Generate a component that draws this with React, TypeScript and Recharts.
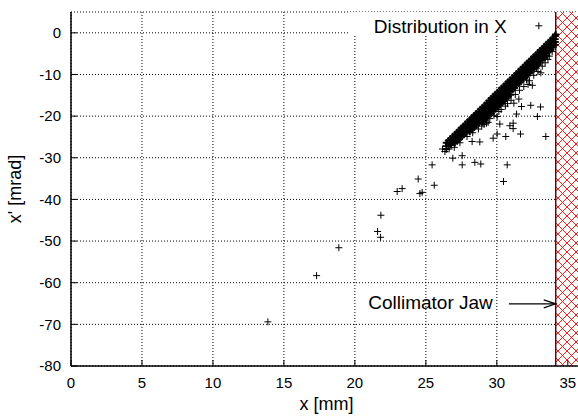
import React from 'react';
import {
  ScatterChart,
  Scatter,
  XAxis,
  YAxis,
  CartesianGrid,
  ReferenceArea,
  ReferenceLine,
  ReferenceDot,
} from 'recharts';

const FONT = '"Liberation Sans", Arial, Helvetica, sans-serif';

const xTicks = [0, 5, 10, 15, 20, 25, 30, 35];
const yTicks = [-80, -70, -60, -50, -40, -30, -20, -10, 0];
const xDomain: [number, number] = [0, 36];
const yDomain: [number, number] = [-80, 5];
const jawPosition = 34.15;
const legendTitle = 'Distribution in X';
const jawLabel = 'Collimator Jaw';
const xLabel = 'x [mm]';
const yLabel = "x' [mrad]";

// isolated particles far from the jaw
const tailPoints: [number, number][] = [
  [13.87, -69.4], [17.3, -58.3], [18.87, -51.6], [21.6, -47.7], [21.81, -49.1],
  [21.83, -43.8], [22.98, -38.1], [23.33, -37.4], [24.46, -35.1], [24.58, -38.6],
  [24.74, -38.3], [25.44, -31.7], [25.59, -36.6], [26.34, -28.5],
];

// scattered particles below the dense band
const haloPoints: [number, number][] = [
  [26.17, -27.9], [26.64, -27.9], [26.8, -26.9], [26.9, -30.1], [27.56, -31.7],
  [27.56, -29.5], [28.45, -31.1], [28.87, -31.5], [30.73, -31.7], [30.47, -35.7],
  [28.26, -26.1], [28.8, -26.2], [29.74, -25.3], [30.02, -24.3], [30.63, -24.9],
  [31.15, -23.0], [31.67, -24.3], [33.45, -24.9], [31.39, -19.5], [31.74, -17.7],
  [32.39, -17.4], [33.08, -17.8], [32.86, -20.1], [31.55, -15.9], [30.75, -17.0],
  [30.14, -18.9], [30.21, -21.9], [30.92, -22.3], [29.39, -21.5], [28.94, -22.4],
  [32.2, -12.4], [32.09, -11.3], [32.8, -8.5], [30.02, -20.1], [31.15, -21.7],
  [29.27, -21.7], [33.9, -4.5], [33.7, -5.6], [33.4, -7.2], [33.2, -8.0],
  [32.9, -9.3], [32.6, -10.2], [32.3, -11.5], [31.9, -12.9], [31.6, -13.8],
  [31.3, -14.8], [31.0, -16.2], [30.6, -17.6], [30.3, -18.4], [29.8, -19.8],
  [29.5, -20.6], [29.1, -22.0], [28.7, -23.1], [28.3, -24.0], [27.9, -24.9],
  [27.4, -26.4], [27.0, -27.5], [33.6, -6.4], [33.1, -9.6], [32.5, -12.6],
  [31.2, -16.9],
];

// dense band: x position and the x' values of the particles at that x
const bandColumns: [number, number[]][] = [
  [26.45, [-26.4, -27.2, -27.9]],
  [26.6, [-25.9, -26.7]],
  [26.75, [-25.4, -26.2, -26.8]],
  [26.9, [-24.9, -25.7, -26.3]],
  [27.05, [-24.4, -25.1, -25.9, -26.4]],
  [27.2, [-23.9, -24.6, -25.2, -26.0]],
  [27.35, [-23.4, -24.2, -24.8, -25.5]],
  [27.5, [-22.9, -23.6, -24.4, -25.0]],
  [27.65, [-22.4, -23.1, -23.7, -24.5]],
  [27.8, [-21.9, -22.7, -23.3, -24.0]],
  [27.95, [-21.4, -22.1, -22.9, -23.5]],
  [28.1, [-20.9, -21.6, -22.3, -23.0, -23.7]],
  [28.25, [-20.4, -21.2, -21.8, -22.5, -23.2]],
  [28.4, [-19.9, -20.6, -21.4, -22.0, -22.7]],
  [28.55, [-19.4, -20.1, -20.8, -21.6, -22.2]],
  [28.7, [-18.9, -19.7, -20.3, -21.0, -21.8]],
  [28.85, [-18.4, -19.1, -19.9, -20.5, -21.2]],
  [29.0, [-17.9, -18.6, -19.3, -20.1, -20.7, -21.4]],
  [29.15, [-17.4, -18.1, -18.9, -19.5, -20.2, -20.9]],
  [29.3, [-16.9, -17.6, -18.3, -19.1, -19.7, -20.4]],
  [29.45, [-16.3, -17.1, -17.8, -18.4, -19.2, -19.8]],
  [29.6, [-15.8, -16.5, -17.3, -17.9, -18.6, -19.4]],
  [29.75, [-15.3, -16.0, -16.7, -17.5, -18.1, -18.8]],
  [29.9, [-14.8, -15.6, -16.2, -16.9, -17.7, -18.3]],
  [30.05, [-14.3, -15.0, -15.8, -16.4, -17.1, -17.8]],
  [30.2, [-13.8, -14.5, -15.2, -16.0, -16.6, -17.3]],
  [30.35, [-13.3, -14.1, -14.7, -15.4, -16.2, -16.8]],
  [30.5, [-12.8, -13.5, -14.3, -14.9, -15.6, -16.4]],
  [30.65, [-12.3, -13.0, -13.7, -14.5, -15.1, -15.8]],
  [30.8, [-11.8, -12.6, -13.2, -13.9, -14.7, -15.3]],
  [30.95, [-11.3, -12.0, -12.8, -13.4, -14.1, -14.9]],
  [31.1, [-10.8, -11.5, -12.2, -13.0, -13.7]],
  [31.25, [-10.3, -11.1, -11.7, -12.4, -13.2]],
  [31.4, [-9.8, -10.5, -11.3, -11.9, -12.6]],
  [31.55, [-9.3, -10.0, -10.7, -11.5, -12.1]],
  [31.7, [-8.8, -9.6, -10.2, -10.9, -11.7]],
  [31.85, [-8.3, -9.0, -9.8, -10.4, -11.1]],
  [32.0, [-7.8, -8.5, -9.2, -10.0, -10.6]],
  [32.15, [-7.3, -8.1, -8.7, -9.4, -10.2]],
  [32.3, [-6.8, -7.5, -8.3, -8.9, -9.6]],
  [32.45, [-6.3, -7.0, -7.7, -8.5, -9.1]],
  [32.6, [-5.8, -6.6, -7.2, -7.9, -8.7]],
  [32.75, [-5.3, -6.0, -6.8, -7.4, -8.1]],
  [32.9, [-4.8, -5.5, -6.2, -7.0, -7.6]],
  [33.05, [-4.3, -5.1, -5.7, -6.4, -7.1]],
  [33.2, [-3.8, -4.5, -5.3, -5.9, -6.5]],
  [33.35, [-3.3, -4.0, -4.7, -5.5, -6.0]],
  [33.5, [-2.8, -3.6, -4.2, -4.9, -5.5]],
  [33.65, [-2.3, -3.0, -3.8, -4.4]],
  [33.8, [-1.8, -2.5, -3.2, -4.0]],
  [33.95, [-1.3, -2.1, -2.7, -3.4]],
  [34.1, [-0.8, -1.5, -2.2, -2.9]],
  [34.15, [-0.4]],
];

// annotation anchors (data coordinates)
const legendTextAt = { x: 30.7, y: 0.07 };
const legendSampleAt = { x: 32.96, y: 1.68 };
const legendBox = { x1: 19.6, x2: 34.05, y1: -0.45, y2: 5 };
const arrowFrom = { x: 30.85, y: -65.07 };
const arrowTo = { x: 34.15, y: -65.07 };
const jawLabelAt = { x: 29.72, y: -66.4 };

const sparsePoints = [
  ...tailPoints.map(([x, y]) => ({ x, y })),
  ...haloPoints.map(([x, y]) => ({ x, y })),
];
const bandPoints = bandColumns.flatMap(([x, ys]) => ys.map((y) => ({ x, y })));

const plusPath = (cx: number, cy: number, h = 3.5) =>
  `M${cx - h},${cy}H${cx + h}M${cx},${cy - h}V${cy + h}`;

const PlusMark = (props: any) => {
  const { cx, cy } = props;
  if (cx == null || cy == null) return null;
  return <path d={plusPath(cx, cy)} stroke="#000" strokeWidth={1} fill="none" />;
};

const BoldPlusMark = (props: any) => {
  const { cx, cy } = props;
  if (cx == null || cy == null) return null;
  return <path d={plusPath(cx, cy, 3.7)} stroke="#000" strokeWidth={1.8} fill="none" />;
};

const XTick = (props: any) => {
  const { x, y, payload } = props;
  return (
    <g>
      <line x1={x} x2={x} y1={y - 11} y2={y - 17} stroke="#000" strokeWidth={1} />
      <text x={x} y={y} dy="0.71em" textAnchor="middle" fontSize={15} fontFamily={FONT} fill="#000">
        {payload.value}
      </text>
    </g>
  );
};

const TopTick = (props: any) => {
  const { x, y } = props;
  return <line x1={x} x2={x} y1={y} y2={y + 6} stroke="#000" strokeWidth={1} />;
};

const YTick = (props: any) => {
  const { x, y, payload } = props;
  return (
    <g>
      <line x1={x + 10} x2={x + 16} y1={y} y2={y} stroke="#000" strokeWidth={1} />
      <text x={x} y={y} dy="0.355em" textAnchor="end" fontSize={15} fontFamily={FONT} fill="#000">
        {payload.value}
      </text>
    </g>
  );
};

const XTitle = (props: any) => {
  const vb = props.viewBox || {};
  return (
    <text x={vb.x + vb.width / 2} y={vb.y + 44} textAnchor="middle" fontSize={18} fontFamily={FONT} fill="#000">
      {xLabel}
    </text>
  );
};

const YTitle = (props: any) => {
  const vb = props.viewBox || {};
  const cx = 21;
  const cy = vb.y + vb.height / 2;
  return (
    <text x={cx} y={cy} transform={`rotate(-90, ${cx}, ${cy})`} textAnchor="middle" fontSize={18} fontFamily={FONT} fill="#000">
      {yLabel}
    </text>
  );
};

const TextShape = (text: string) => (props: any) => {
  const { cx, cy } = props;
  return (
    <text x={cx} y={cy} textAnchor="end" fontSize={19} fontFamily={FONT} fill="#000">
      {text}
    </text>
  );
};

const ArrowShape = (props: any) => {
  const { x1, y1, x2, y2 } = props;
  return (
    <g>
      <line x1={x1} y1={y1} x2={x2} y2={y2} stroke="#000" strokeWidth={1.2} />
      <path d={`M${x2 - 12},${y2 - 4}L${x2},${y2}L${x2 - 12},${y2 + 4}`} fill="none" stroke="#000" strokeWidth={1.2} />
    </g>
  );
};

export default function App() {
  return (
    <div
      style={{
        position: 'absolute',
        left: 0,
        top: 0,
        width: 578,
        height: 416,
        overflow: 'hidden',
        background: '#fff',
        fontFamily: FONT,
      }}
    >
      <ScatterChart width={600} height={416} margin={{ top: 12, right: 18, bottom: 0, left: 0 }}>
        <defs>
          <pattern id="jawHatch" width="9" height="9" patternUnits="userSpaceOnUse">
            <rect width="9" height="9" fill="#fff" />
            <path d="M0,0L9,9M9,0L0,9" stroke="#ff0000" strokeWidth={0.9} />
          </pattern>
        </defs>
        <CartesianGrid stroke="#000" strokeDasharray="1 2" strokeWidth={1} />
        <XAxis
          type="number"
          dataKey="x"
          domain={xDomain}
          ticks={xTicks}
          height={50}
          tickSize={0}
          tickMargin={11}
          tickLine={false}
          tick={XTick}
          axisLine={{ stroke: '#000', strokeWidth: 1.5 }}
          label={XTitle}
          allowDataOverflow
        />
        <XAxis
          xAxisId="top"
          orientation="top"
          type="number"
          domain={xDomain}
          ticks={xTicks}
          height={0}
          tickSize={0}
          tickMargin={0}
          tickLine={false}
          tick={TopTick}
          axisLine={{ stroke: '#000', strokeWidth: 1.5 }}
          allowDataOverflow
        />
        <YAxis
          type="number"
          dataKey="y"
          domain={yDomain}
          ticks={yTicks}
          width={71}
          tickSize={0}
          tickMargin={10}
          tickLine={false}
          tick={YTick}
          axisLine={{ stroke: '#000', strokeWidth: 1.5 }}
          label={YTitle}
          allowDataOverflow
        />
        <ReferenceArea
          x1={legendBox.x1}
          x2={legendBox.x2}
          y1={legendBox.y1}
          y2={legendBox.y2}
          fill="#fff"
          fillOpacity={1}
          stroke="none"
        />
        <ReferenceArea
          x1={jawPosition}
          x2={xDomain[1]}
          y1={yDomain[0]}
          y2={yDomain[1]}
          fill="url(#jawHatch)"
          fillOpacity={1}
          stroke="none"
        />
        <ReferenceLine x={jawPosition} stroke="#7a0000" strokeWidth={1.5} />
        <Scatter data={sparsePoints} shape={PlusMark} isAnimationActive={false} />
        <Scatter data={bandPoints} shape={BoldPlusMark} isAnimationActive={false} />
        <ReferenceDot x={legendTextAt.x} y={legendTextAt.y} shape={TextShape(legendTitle)} />
        <ReferenceDot x={legendSampleAt.x} y={legendSampleAt.y} shape={PlusMark} />
        <ReferenceDot x={jawLabelAt.x} y={jawLabelAt.y} shape={TextShape(jawLabel)} />
        <ReferenceLine segment={[arrowFrom, arrowTo]} shape={ArrowShape} />
      </ScatterChart>
    </div>
  );
}
